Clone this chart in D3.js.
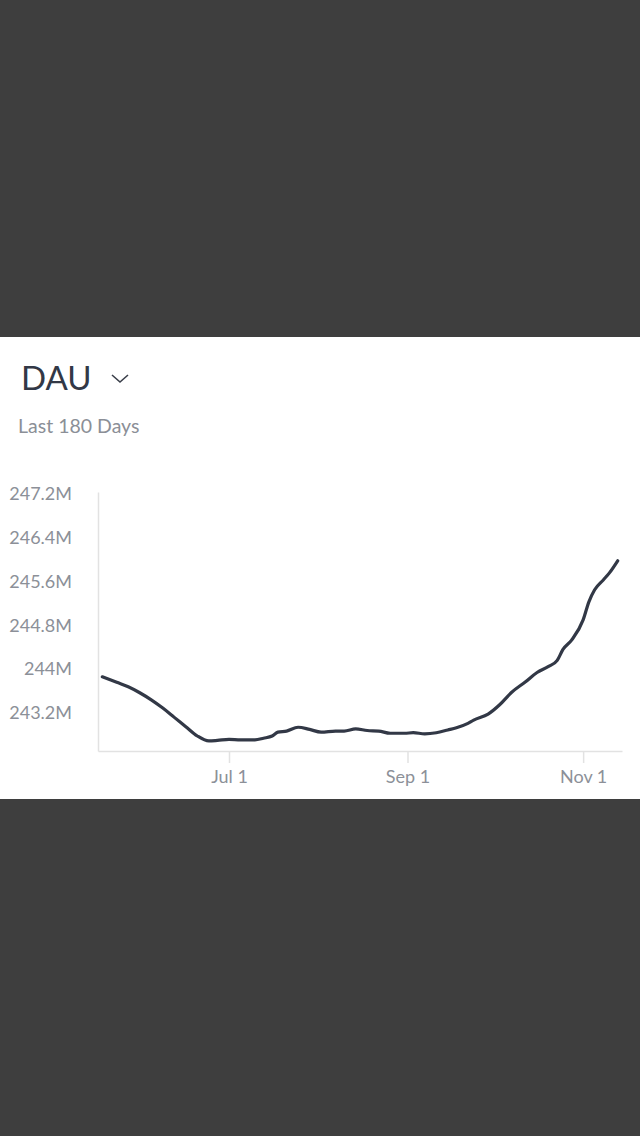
<!DOCTYPE html>
<html>
<head>
<meta charset="utf-8">
<script src="https://cdn.jsdelivr.net/npm/d3@7"></script>
<style>
  html, body { margin: 0; padding: 0; background: #3e3e3e; }
  svg { display: block; }
</style>
</head>
<body>
<div id="chart"></div>
<script>
// daily active users, millions
const dates = [
    "2017-05-18", "2017-05-23", "2017-05-27", "2017-05-31", "2017-06-04", "2017-06-08",
    "2017-06-12", "2017-06-16", "2017-06-20", "2017-06-24", "2017-06-27", "2017-07-01",
    "2017-07-05", "2017-07-10", "2017-07-13", "2017-07-16", "2017-07-18", "2017-07-21",
    "2017-07-25", "2017-07-29", "2017-08-02", "2017-08-07", "2017-08-10", "2017-08-14",
    "2017-08-18", "2017-08-22", "2017-08-26", "2017-08-31", "2017-09-03", "2017-09-07",
    "2017-09-11", "2017-09-15", "2017-09-18", "2017-09-22", "2017-09-24", "2017-09-29",
    "2017-10-03", "2017-10-07", "2017-10-12", "2017-10-16", "2017-10-20", "2017-10-23",
    "2017-10-25", "2017-10-28", "2017-11-01", "2017-11-03", "2017-11-05", "2017-11-08",
    "2017-11-10", "2017-11-13"
];
const dau = [
    243.86, 243.76, 243.68, 243.57, 243.44, 243.29,
    243.12, 242.95, 242.78, 242.69, 242.70, 242.72,
    242.71, 242.71, 242.74, 242.78, 242.85, 242.87,
    242.94, 242.90, 242.85, 242.87, 242.87, 242.91,
    242.88, 242.87, 242.83, 242.83, 242.84, 242.82,
    242.84, 242.89, 242.93, 243.01, 243.07, 243.18,
    243.35, 243.57, 243.77, 243.94, 244.05, 244.16,
    244.36, 244.53, 244.90, 245.23, 245.45, 245.63,
    245.75, 245.98
];
const yTicks = [243.2, 244, 244.8, 245.6, 246.4, 247.2];
const yTickLabels = ["243.2M", "244M", "244.8M", "245.6M", "246.4M", "247.2M"];
const xTicks = ["2017-07-01", "2017-09-01", "2017-11-01"];
const xTickLabels = ["Jul 1", "Sep 1", "Nov 1"];

const width = 640, height = 1136;
const parse = d3.utcParse("%Y-%m-%d");
const data = dates.map((d, i) => ({date: parse(d), value: dau[i]}));

const svg = d3.select("#chart").append("svg")
    .attr("width", width)
    .attr("height", height);

svg.append("rect")
    .attr("width", width).attr("height", height)
    .attr("fill", "#3e3e3e");

// white card
svg.append("rect")
    .attr("x", 0).attr("y", 337)
    .attr("width", width).attr("height", 462)
    .attr("fill", "#ffffff");

svg.append("text")
    .attr("x", 21).attr("y", 390)
    .attr("font-family", "Lato, sans-serif")
    .attr("font-size", 33)
    .attr("fill", "#323846")
    .text("DAU");

svg.append("path")
    .attr("d", "M112,375L120,382L128,375")
    .attr("fill", "none")
    .attr("stroke", "#3a3f4a")
    .attr("stroke-width", 1.6);

svg.append("text")
    .attr("x", 18).attr("y", 433)
    .attr("font-family", "Lato, sans-serif")
    .attr("font-size", 19.5)
    .attr("fill", "#8b8f97")
    .text("Last 180 Days");

// scales
const x = d3.scaleUtc()
    .domain([new Date(Date.UTC(2017, 4, 16, 12)), new Date(Date.UTC(2017, 10, 14, 12))])
    .range([98, 622]);

const y = d3.scaleLinear()
    .domain([242.506, 247.236])
    .range([751, 492]);

// y axis
const yAxis = svg.append("g")
    .attr("transform", "translate(98,0)")
    .call(d3.axisLeft(y)
        .tickValues(yTicks)
        .tickFormat((d, i) => yTickLabels[i])
        .tickSize(0)
        .tickPadding(26));

// x axis
const xAxis = svg.append("g")
    .attr("transform", "translate(0,751)")
    .call(d3.axisBottom(x)
        .tickValues(xTicks.map(parse))
        .tickFormat((d, i) => xTickLabels[i])
        .tickSize(12)
        .tickSizeOuter(0)
        .tickPadding(7));

[yAxis, xAxis].forEach(g => {
    g.select(".domain").attr("stroke", "#e2e2e2").attr("stroke-width", 1.5);
    g.selectAll(".tick line").attr("stroke", "#e2e2e2").attr("stroke-width", 1.5);
    g.selectAll(".tick text")
        .attr("font-family", "Lato, sans-serif")
        .attr("font-size", 18)
        .attr("fill", "#8c9098");
});

const line = d3.line()
    .x(d => x(d.date))
    .y(d => y(d.value))
    .curve(d3.curveMonotoneX);

svg.append("path")
    .datum(data)
    .attr("d", line)
    .attr("fill", "none")
    .attr("stroke", "#323846")
    .attr("stroke-width", 3.2)
    .attr("stroke-linejoin", "round")
    .attr("stroke-linecap", "round");
</script>
</body>
</html>
